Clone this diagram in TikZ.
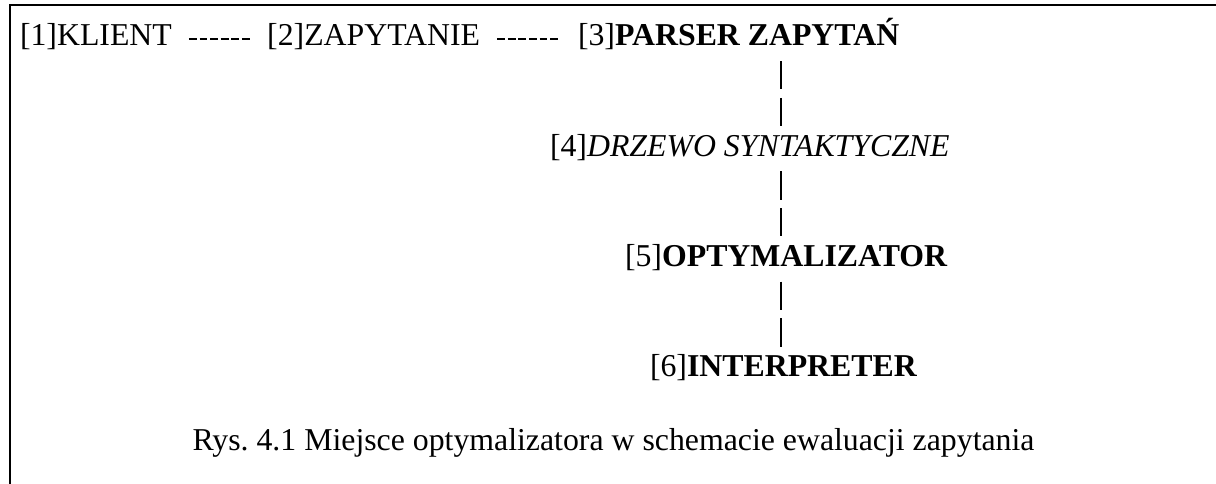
\documentclass[tikz,border=0pt]{standalone}
\usepackage{fontspec}
\setmainfont{Liberation Serif}
\usetikzlibrary{calc}
\frenchspacing
\begin{document}
\begin{tikzpicture}[x=0.5pt,y=-0.5pt,
  lbl/.style={inner sep=0pt,outer sep=0pt,anchor=base west,
    font=\fontsize{15.9}{19}\selectfont},
  hyph/.style={line width=1pt,dash pattern=on 3.91pt off 1.385pt},
  vbar/.style={line width=0.8pt,dash pattern=on 14.2pt off 4.18pt},
  frame/.style={line width=0.8pt}]
\useasboundingbox (0,0) rectangle (1216,483);
% page frame (top and left rules)
\draw[frame] (10,490) -- (10,5) -- (1222,5);
% first row
\node[lbl] (n1) at (20,45.75) {[1]KLIENT};
\node[lbl] (n2) at (267.2,45.75) {[2]ZAPYTANIE};
\node[lbl] (n3) at (578,45.75) {[3]\textbf{PARSER ZAPYTAŃ}};
% column
\node[lbl] (n4) at (550,156) {[4]\textit{DRZEWO SYNTAKTYCZNE}};
\node[lbl] (n5) at (625,266.25) {[5]\textbf{OPTYMALIZATOR}};
\node[lbl] (n6) at (650,376.5) {[6]\textbf{INTERPRETER}};
% caption
\node[lbl] (cap) at (192.5,450) {Rys. 4.1 Miejsce optymalizatora w schemacie ewaluacji zapytania};
% horizontal links
\draw[hyph] ($(n1.base east)+(17.1,-7.2)$) -- ($(n2.base west)+(-17.4,-7.2)$);
\draw[hyph] ($(n2.base east)+(17.1,-7.2)$) -- ($(n3.base west)+(-17.4,-7.2)$);
% vertical links
\coordinate (bx) at (781,0);
\draw[vbar] ($(n3.base -| bx)+(0,15.25)$) -- ($(n4.base -| bx)+(0,-29.85)$);
\draw[vbar] ($(n4.base -| bx)+(0,15.25)$) -- ($(n5.base -| bx)+(0,-29.85)$);
\draw[vbar] ($(n5.base -| bx)+(0,15.25)$) -- ($(n6.base -| bx)+(0,-29.85)$);
\end{tikzpicture}
\end{document}
